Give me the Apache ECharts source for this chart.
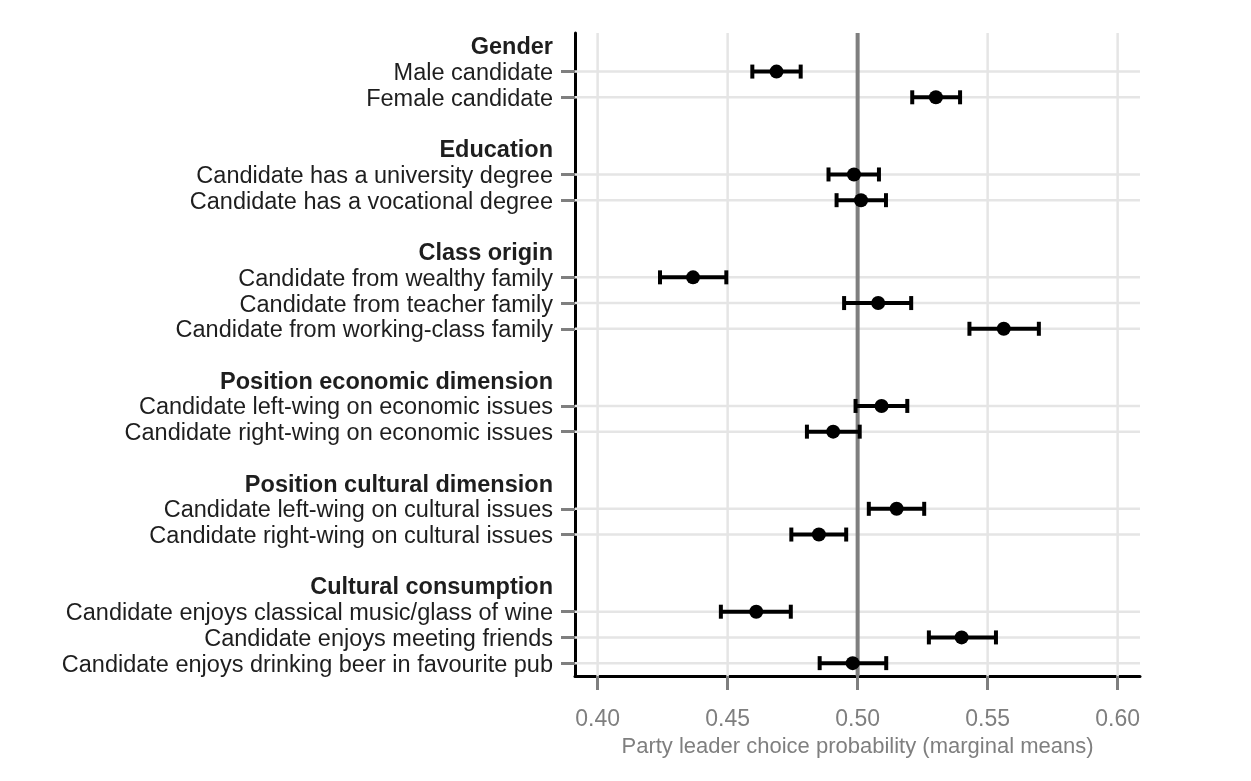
<!DOCTYPE html>
<html>
<head>
<meta charset="utf-8">
<script src="https://cdn.jsdelivr.net/npm/echarts@6/dist/echarts.min.js"></script>
<style>
  html, body { margin: 0; padding: 0; background: #ffffff; }
  #chart { width: 1251px; height: 781px; }
</style>
</head>
<body>
<div id="chart"></div>
<script>
// ---- data ----
const categories = [
  'Gender', 'Male candidate', 'Female candidate', '',
  'Education', 'Candidate has a university degree', 'Candidate has a vocational degree', '',
  'Class origin', 'Candidate from wealthy family', 'Candidate from teacher family', 'Candidate from working-class family', '',
  'Position economic dimension', 'Candidate left-wing on economic issues', 'Candidate right-wing on economic issues', '',
  'Position cultural dimension', 'Candidate left-wing on cultural issues', 'Candidate right-wing on cultural issues', '',
  'Cultural consumption', 'Candidate enjoys classical music/glass of wine', 'Candidate enjoys meeting friends', 'Candidate enjoys drinking beer in favourite pub'
];
const headers = ['Gender', 'Education', 'Class origin', 'Position economic dimension', 'Position cultural dimension', 'Cultural consumption'];
const levels = [
  'Male candidate', 'Female candidate',
  'Candidate has a university degree', 'Candidate has a vocational degree',
  'Candidate from wealthy family', 'Candidate from teacher family', 'Candidate from working-class family',
  'Candidate left-wing on economic issues', 'Candidate right-wing on economic issues',
  'Candidate left-wing on cultural issues', 'Candidate right-wing on cultural issues',
  'Candidate enjoys classical music/glass of wine', 'Candidate enjoys meeting friends', 'Candidate enjoys drinking beer in favourite pub'
];
const estimate = [0.4688, 0.5301, 0.4986, 0.5013, 0.4367, 0.5079, 0.5562, 0.5092, 0.4906, 0.5150, 0.4851, 0.4610, 0.5400, 0.4981];
const lower    = [0.4595, 0.5210, 0.4888, 0.4919, 0.4240, 0.4948, 0.5430, 0.4992, 0.4805, 0.5043, 0.4745, 0.4474, 0.5274, 0.4854];
const upper    = [0.4781, 0.5394, 0.5082, 0.5109, 0.4495, 0.5206, 0.5697, 0.5191, 0.5008, 0.5256, 0.4956, 0.4743, 0.5532, 0.5110];
const xTicks = [0.40, 0.45, 0.50, 0.55, 0.60];
const refValue = 0.50;
const xMin = 0.3913, xMax = 0.6086;
const xTitle = 'Party leader choice probability (marginal means)';

// ---- build ----
const rowIndex = levels.map(l => categories.indexOf(l));
const isDataRow = i => levels.indexOf(categories[i]) >= 0;
const FONT = '"Liberation Sans", Arial, sans-serif';

const chart = echarts.init(document.getElementById('chart'), null, { renderer: 'canvas' });

const option = {
  animation: false,
  backgroundColor: '#ffffff',
  grid: { left: 575, right: 111, top: 33, bottom: 105, containLabel: false },
  xAxis: {
    type: 'value',
    min: xMin, max: xMax,
    axisLine: { show: true, onZero: false, lineStyle: { color: '#000000', width: 3 } },
    axisTick: { show: true, customValues: xTicks, length: 14, lineStyle: { color: '#7f7f7f', width: 3 } },
    axisLabel: {
      customValues: xTicks, margin: 32, fontSize: 23, color: '#7f7f7f', fontFamily: FONT,
      formatter: v => Number(v).toFixed(2)
    },
    splitLine: { show: false },
    name: xTitle, nameLocation: 'middle', nameGap: 59,
    nameTextStyle: { fontSize: 22, color: '#7f7f7f', fontFamily: FONT }
  },
  yAxis: {
    type: 'category',
    data: categories,
    inverse: true,
    boundaryGap: true,
    axisLine: { show: true, lineStyle: { color: '#000000', width: 3 } },
    axisTick: { show: true, alignWithLabel: true, length: 14, interval: (i) => isDataRow(i), lineStyle: { color: '#7f7f7f', width: 3 } },
    axisLabel: {
      interval: 0, margin: 22, fontSize: 23.5, color: '#1e1e1e', fontFamily: FONT,
      padding: [4, 0, 0, 0],
      formatter: v => headers.indexOf(v) >= 0 ? '{h|' + v + '}' : v,
      rich: { h: { fontWeight: 'bold', fontSize: 23.5, color: '#1e1e1e', fontFamily: FONT } }
    },
    splitLine: { show: false }
  },
  series: [
    { // vertical gridlines
      type: 'custom', z: 1, silent: true,
      data: xTicks.map(v => [v]),
      encode: { x: 0 },
      renderItem: (params, api) => {
        const cs = params.coordSys;
        const x = api.coord([api.value(0), 0])[0];
        return { type: 'line', shape: { x1: x, y1: cs.y, x2: x, y2: cs.y + cs.height },
          style: { stroke: '#e5e5e5', lineWidth: 2.5 } };
      }
    },
    { // horizontal gridlines at data rows
      type: 'custom', z: 1, silent: true,
      data: rowIndex.map(r => [xMin, r]),
      encode: { x: 0, y: 1 },
      renderItem: (params, api) => {
        const cs = params.coordSys;
        const y = api.coord([api.value(0), api.value(1)])[1];
        return { type: 'line', shape: { x1: cs.x, y1: y, x2: cs.x + cs.width, y2: y },
          style: { stroke: '#e5e5e5', lineWidth: 2.5 } };
      }
    },
    { // reference line at 0.50
      type: 'custom', z: 2, silent: true,
      data: [[refValue]],
      encode: { x: 0 },
      renderItem: (params, api) => {
        const cs = params.coordSys;
        const x = api.coord([api.value(0), 0])[0];
        return { type: 'line', shape: { x1: x, y1: cs.y, x2: x, y2: cs.y + cs.height },
          style: { stroke: '#7f7f7f', lineWidth: 4 } };
      }
    },
    { // error bars
      type: 'custom', z: 3, silent: true,
      data: rowIndex.map((r, i) => [lower[i], upper[i], r]),
      encode: { x: [0, 1], y: 2 },
      renderItem: (params, api) => {
        const p1 = api.coord([api.value(0), api.value(2)]);
        const p2 = api.coord([api.value(1), api.value(2)]);
        const h = 7;
        const st = { stroke: '#000000', lineWidth: 4 };
        return { type: 'group', children: [
          { type: 'line', shape: { x1: p1[0], y1: p1[1], x2: p2[0], y2: p2[1] }, style: st },
          { type: 'line', shape: { x1: p1[0], y1: p1[1] - h, x2: p1[0], y2: p1[1] + h }, style: st },
          { type: 'line', shape: { x1: p2[0], y1: p2[1] - h, x2: p2[0], y2: p2[1] + h }, style: st }
        ]};
      }
    },
    { // point estimates
      type: 'scatter', z: 4, silent: true,
      symbol: 'circle', symbolSize: 14,
      itemStyle: { color: '#000000', opacity: 1 },
      data: rowIndex.map((r, i) => [estimate[i], r])
    }
  ]
};
chart.setOption(option);
</script>
</body>
</html>
